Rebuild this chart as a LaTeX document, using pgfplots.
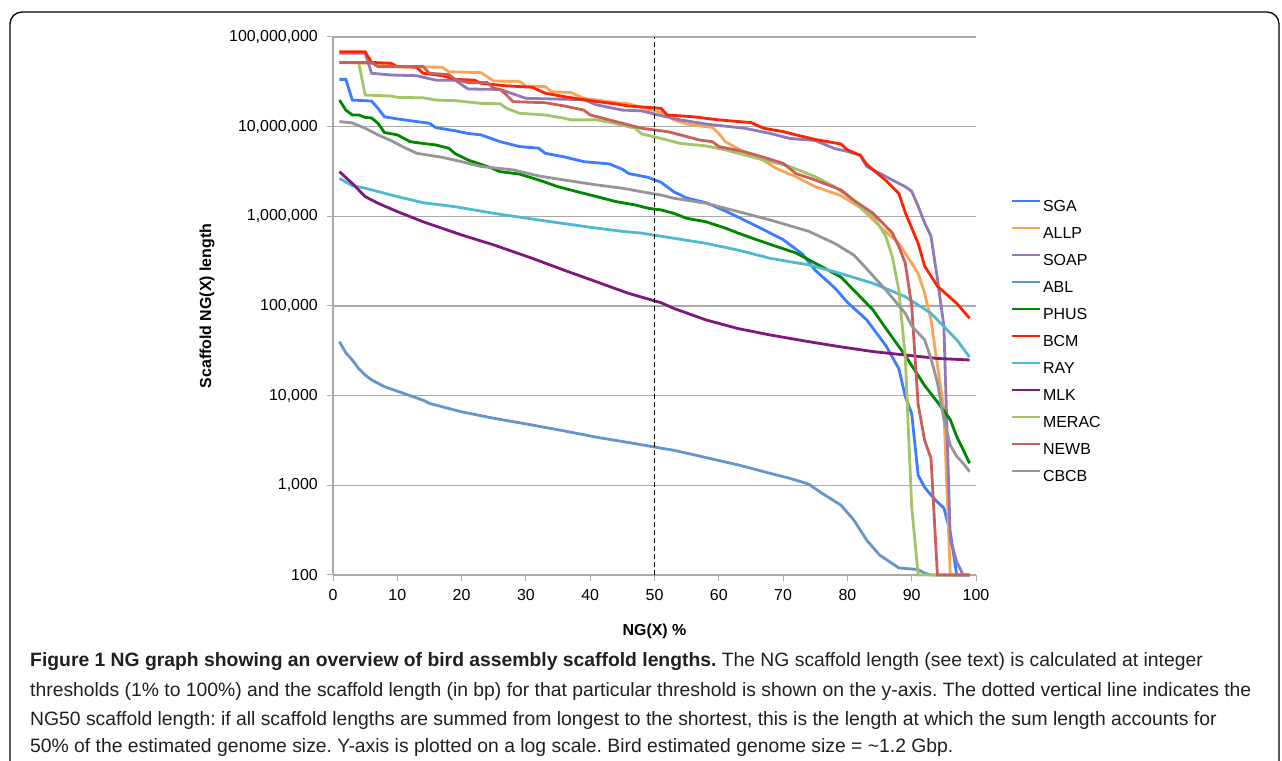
\documentclass[border=0pt]{standalone}
\usepackage{fontspec}
\setmainfont{Liberation Sans}
\newfontfamily\capfont{Liberation Sans}
\usepackage{pgfplots}
\pgfplotsset{compat=1.18}
\definecolor{cSGA}{RGB}{60,125,255}
\definecolor{cALLP}{RGB}{250,165,85}
\definecolor{cSOAP}{RGB}{145,120,185}
\definecolor{cABL}{RGB}{100,150,205}
\definecolor{cPHUS}{RGB}{0,135,0}
\definecolor{cBCM}{RGB}{255,35,0}
\definecolor{cRAY}{RGB}{80,185,210}
\definecolor{cMLK}{RGB}{125,25,125}
\definecolor{cMERAC}{RGB}{165,195,105}
\definecolor{cNEWB}{RGB}{200,95,90}
\definecolor{cCBCB}{RGB}{150,150,150}
\definecolor{gridgray}{RGB}{170,170,170}
\definecolor{captext}{RGB}{35,31,32}
\begin{document}
\frenchspacing
\begin{tikzpicture}
\useasboundingbox (0bp,0bp) rectangle (1282bp,761bp);
\draw[black, line width=1.3bp, rounded corners=12bp] (10bp,-30bp) -- (10bp,749bp) -- (1279bp,749bp) -- (1279bp,-30bp);
\begin{axis}[
  at={(333bp,186bp)}, anchor=south west,
  scale only axis, width=643bp, height=538bp,
  xmin=0, xmax=100, ymin=100, ymax=1e8,
  ymode=log, log basis y=10,
  axis lines*=left,
  axis line style={draw=gridgray, line width=1.3bp},
  xtick={0,10,...,100},
  ytick={100,1000,10000,100000,1000000,10000000,100000000},
  yticklabels={100,{1,000},{10,000},{100,000},{1,000,000},{10,000,000},{100,000,000}},
  ymajorgrids, major grid style={gridgray, line width=1.3bp},
  tick style={gridgray, line width=1bp},
  major tick length=6bp, minor tick length=3.5bp,
  tick align=outside,
  /pgf/number format/assume math mode=true,
  tick label style={font=\fontsize{16}{19}\selectfont, inner sep=0pt},
  yticklabel style={xshift=-9bp},
  xticklabel style={yshift=-8bp},
  xlabel={NG(X) \%}, ylabel={Scaffold NG(X) length},
  label style={font=\bfseries\fontsize{16}{19}\selectfont},
  xlabel style={at={(axis description cs:0.5,-0.104)}, anchor=center},
  ylabel style={at={(axis description cs:-0.196,0.5)}, anchor=center},
  clip=false,
  every axis plot/.append style={line width=2.8bp},
  legend style={at={(axis description cs:1.053,0.699)}, anchor=north west, draw=none, fill=none,
    inner sep=0pt, row sep=12bp, font=\fontsize{16}{19}\selectfont,
    nodes={inner sep=0pt, text height=12bp, text depth=3bp}},
  legend cell align=left,
  legend image code/.code={\draw[#1] (0bp,5.7bp) -- (28bp,5.7bp); \path (30bp,0bp);},
]
\addplot[cSGA] coordinates {(1,3.37e7)(2,3.37e7)(3,1.98e7)(6,1.93e7)(7,1.6e7)(8,1.29e7)(10,1.22e7)(15,1.09e7)(16,9.75e6)(19,9.0e6)(21,8.4e6)(23,8.1e6)(26,6.8e6)(29,6.0e6)(32,5.75e6)(33,5.05e6)(36,4.6e6)(39,4.07e6)(43,3.84e6)(45,3.35e6)(46,3.0e6)(49,2.72e6)(51,2.4e6)(53,1.88e6)(55,1.6e6)(58,1.42e6)(61,1.15e6)(63,9.8e5)(66,7.7e5)(70,5.5e5)(73,3.8e5)(75,2.5e5)(78,1.6e5)(80,1.1e5)(83,7e4)(86,3.6e4)(88,2.0e4)(89,9.8e3)(90,6.3e3)(91,1.3e3)(92,950)(93,780)(94,650)(95,560)(96,300)(97,100)(99,100)};
\addlegendentry{SGA}
\addplot[cALLP] coordinates {(1,5.2e7)(9,5.0e7)(10,4.67e7)(17,4.6e7)(18,4.1e7)(23,4.0e7)(25,3.23e7)(29,3.2e7)(30,2.84e7)(33,2.8e7)(34,2.45e7)(37,2.4e7)(39,2.07e7)(44,1.86e7)(46,1.8e7)(49,1.56e7)(51,1.45e7)(53,1.19e7)(55,1.07e7)(59,9.8e6)(60,8.4e6)(61,6.8e6)(64,5.2e6)(67,4.2e6)(69,3.4e6)(72,2.77e6)(75,2.14e6)(79,1.7e6)(82,1.25e6)(85,7.8e5)(88,5.0e5)(90,3.0e5)(91,2.3e5)(92,1.4e5)(93,7e4)(94,2.2e4)(95,7e3)(96,100)(99,100)};
\addlegendentry{ALLP}
\addplot[cSOAP] coordinates {(1,6.6e7)(5,6.6e7)(6,3.94e7)(9,3.77e7)(13,3.7e7)(16,3.3e7)(19,3.3e7)(21,2.63e7)(26,2.6e7)(30,2.07e7)(39,2.0e7)(41,1.75e7)(45,1.53e7)(48,1.5e7)(51,1.33e7)(54,1.19e7)(58,1.07e7)(64,9.6e6)(68,8.4e6)(71,7.4e6)(75,7.0e6)(78,5.7e6)(80,5.3e6)(82,4.8e6)(83,3.6e6)(87,2.54e6)(89,2.14e6)(90,1.9e6)(91,1.3e6)(92,8.5e5)(93,6e5)(94,2.0e5)(95,6e4)(96,250)(97,140)(98,100)(99,100)};
\addlegendentry{SOAP}
\addplot[cABL] coordinates {(1,4e4)(2,3e4)(3,2.5e4)(4,2.0e4)(5,1.7e4)(6,1.5e4)(8,1.26e4)(11,1.06e4)(14,8.9e3)(15,8.2e3)(20,6.6e3)(25,5.6e3)(31,4.7e3)(36,4.04e3)(41,3.44e3)(46,3.0e3)(51,2.6e3)(53,2.46e3)(58,2.04e3)(63,1.69e3)(68,1.36e3)(71,1.2e3)(74,1.03e3)(76,820)(79,600)(81,410)(83,245)(85,167)(88,120)(91,115)(92,105)(93,100)(99,100)};
\addlegendentry{ABL}
\addplot[cPHUS] coordinates {(1,1.98e7)(2,1.53e7)(3,1.35e7)(4,1.35e7)(5,1.27e7)(6,1.25e7)(7,1.09e7)(8,8.6e6)(10,8.1e6)(12,6.8e6)(14,6.5e6)(16,6.25e6)(18,5.75e6)(19,5.0e6)(21,4.25e6)(24,3.6e6)(26,3.15e6)(29,2.96e6)(32,2.54e6)(35,2.14e6)(38,1.88e6)(41,1.66e6)(44,1.46e6)(47,1.34e6)(49,1.23e6)(51,1.18e6)(53,1.08e6)(55,9.5e5)(58,8.7e5)(61,7.4e5)(63,6.5e5)(66,5.45e5)(69,4.6e5)(72,3.9e5)(76,2.75e5)(79,2.1e5)(81,1.5e5)(84,9.0e4)(86,5.6e4)(89,2.8e4)(92,1.3e4)(94,8.5e3)(96,5.4e3)(97,3.5e3)(98,2.5e3)(99,1.76e3)};
\addlegendentry{PHUS}
\addplot[cBCM] coordinates {(1,6.85e7)(5,6.85e7)(6,5.2e7)(9,5.1e7)(10,4.67e7)(13,4.6e7)(14,3.94e7)(17,3.7e7)(19,3.37e7)(22,3.3e7)(23,3.05e7)(27,2.85e7)(31,2.75e7)(33,2.36e7)(36,2.16e7)(40,1.95e7)(44,1.79e7)(46,1.7e7)(51,1.6e7)(52,1.35e7)(56,1.29e7)(60,1.19e7)(65,1.11e7)(67,9.6e6)(70,8.8e6)(72,8.1e6)(75,7.2e6)(79,6.4e6)(80,5.5e6)(82,4.8e6)(83,3.8e6)(86,2.5e6)(88,1.8e6)(89,1.1e6)(91,5.0e5)(92,2.8e5)(94,1.66e5)(97,1.07e5)(99,7.3e4)};
\addlegendentry{BCM}
\addplot[cRAY] coordinates {(1,2.65e6)(3,2.2e6)(5,2.06e6)(10,1.66e6)(14,1.42e6)(19,1.28e6)(25,1.08e6)(32,9.1e5)(40,7.55e5)(45,6.8e5)(48,6.5e5)(51,6.0e5)(53,5.7e5)(58,5.0e5)(63,4.2e5)(68,3.4e5)(74,2.87e5)(79,2.3e5)(84,1.79e5)(89,1.27e5)(93,8.3e4)(95,5.9e4)(97,4.2e4)(99,2.7e4)};
\addlegendentry{RAY}
\addplot[cMLK] coordinates {(1,3.15e6)(3,2.33e6)(5,1.66e6)(7,1.4e6)(10,1.13e6)(14,8.7e5)(20,6.2e5)(25,4.8e5)(31,3.4e5)(36,2.5e5)(41,1.86e5)(46,1.38e5)(51,1.09e5)(53,9.4e4)(58,7e4)(63,5.6e4)(68,4.75e4)(74,4.0e4)(79,3.5e4)(84,3.1e4)(89,2.84e4)(94,2.6e4)(99,2.5e4)};
\addlegendentry{MLK}
\addplot[cMERAC] coordinates {(1,5.2e7)(4,5.2e7)(5,2.25e7)(9,2.2e7)(10,2.12e7)(14,2.1e7)(16,1.98e7)(19,1.95e7)(23,1.82e7)(26,1.8e7)(27,1.6e7)(29,1.41e7)(33,1.35e7)(36,1.24e7)(37,1.19e7)(41,1.19e7)(43,1.12e7)(47,9.6e6)(48,8.3e6)(51,7.4e6)(54,6.5e6)(58,6.1e6)(61,5.5e6)(67,4.25e6)(71,3.6e6)(75,2.77e6)(78,2.14e6)(80,1.7e6)(83,1.1e6)(84,1.0e6)(85,7.8e5)(86,5.9e5)(87,3.5e5)(88,1.5e5)(89,2.7e4)(90,575)(91,100)(99,100)};
\addlegendentry{MERAC}
\addplot[cNEWB] coordinates {(1,5.2e7)(6,5.2e7)(7,4.67e7)(14,4.67e7)(15,3.94e7)(18,3.8e7)(19,3.37e7)(21,3.1e7)(24,3.1e7)(25,2.68e7)(26,2.6e7)(27,2.25e7)(28,1.9e7)(33,1.85e7)(36,1.7e7)(39,1.53e7)(40,1.35e7)(42,1.24e7)(48,9.6e6)(51,9.0e6)(52,8.8e6)(54,8.1e6)(57,7.1e6)(59,6.8e6)(60,6.0e6)(64,5.25e6)(67,4.55e6)(70,3.9e6)(72,3.0e6)(75,2.54e6)(79,1.97e6)(81,1.51e6)(84,1.08e6)(87,6.5e5)(88,4.6e5)(89,3.0e5)(90,1e5)(91,8e3)(92,3.2e3)(93,2.0e3)(94,100)(99,100)};
\addlegendentry{NEWB}
\addplot[cCBCB] coordinates {(1,1.14e7)(3,1.1e7)(5,9.6e6)(7,8.1e6)(9,7.0e6)(11,5.9e6)(13,5.05e6)(17,4.55e6)(20,4.07e6)(23,3.6e6)(28,3.3e6)(32,2.82e6)(36,2.54e6)(41,2.24e6)(45,2.06e6)(48,1.88e6)(51,1.73e6)(53,1.59e6)(58,1.4e6)(63,1.13e6)(68,9.1e5)(74,6.8e5)(78,5.0e5)(81,3.7e5)(83,2.6e5)(86,1.5e5)(89,8.3e4)(90,6.0e4)(92,4.2e4)(93,2.6e4)(94,1.4e4)(95,5.5e3)(96,2.8e3)(97,2.1e3)(98,1.76e3)(99,1.42e3)};
\addlegendentry{CBCB}
\addplot[black, line width=1.8bp, dash pattern=on 5bp off 3bp, forget plot] coordinates {(50,100)(50,1e8)};
\end{axis}
\begin{scope}[every node/.style={anchor=base west, inner sep=0pt, text=captext, font=\capfont\fontsize{19.4}{22}\selectfont}]
\node at (30bp,94bp) {\textbf{Figure 1 NG graph showing an overview of bird assembly scaffold lengths.} The NG scaffold length (see text) is calculated at integer};
\node at (30bp,64bp) {thresholds (1\% to 100\%) and the scaffold length (in bp) for that particular threshold is shown on the y-axis. The dotted vertical line indicates the};
\node at (30bp,36bp) {NG50 scaffold length: if all scaffold lengths are summed from longest to the shortest, this is the length at which the sum length accounts for};
\node at (30bp,9bp) {50\% of the estimated genome size. Y-axis is plotted on a log scale. Bird estimated genome size = \textasciitilde1.2 Gbp.};
\end{scope}
\end{tikzpicture}
\end{document}
